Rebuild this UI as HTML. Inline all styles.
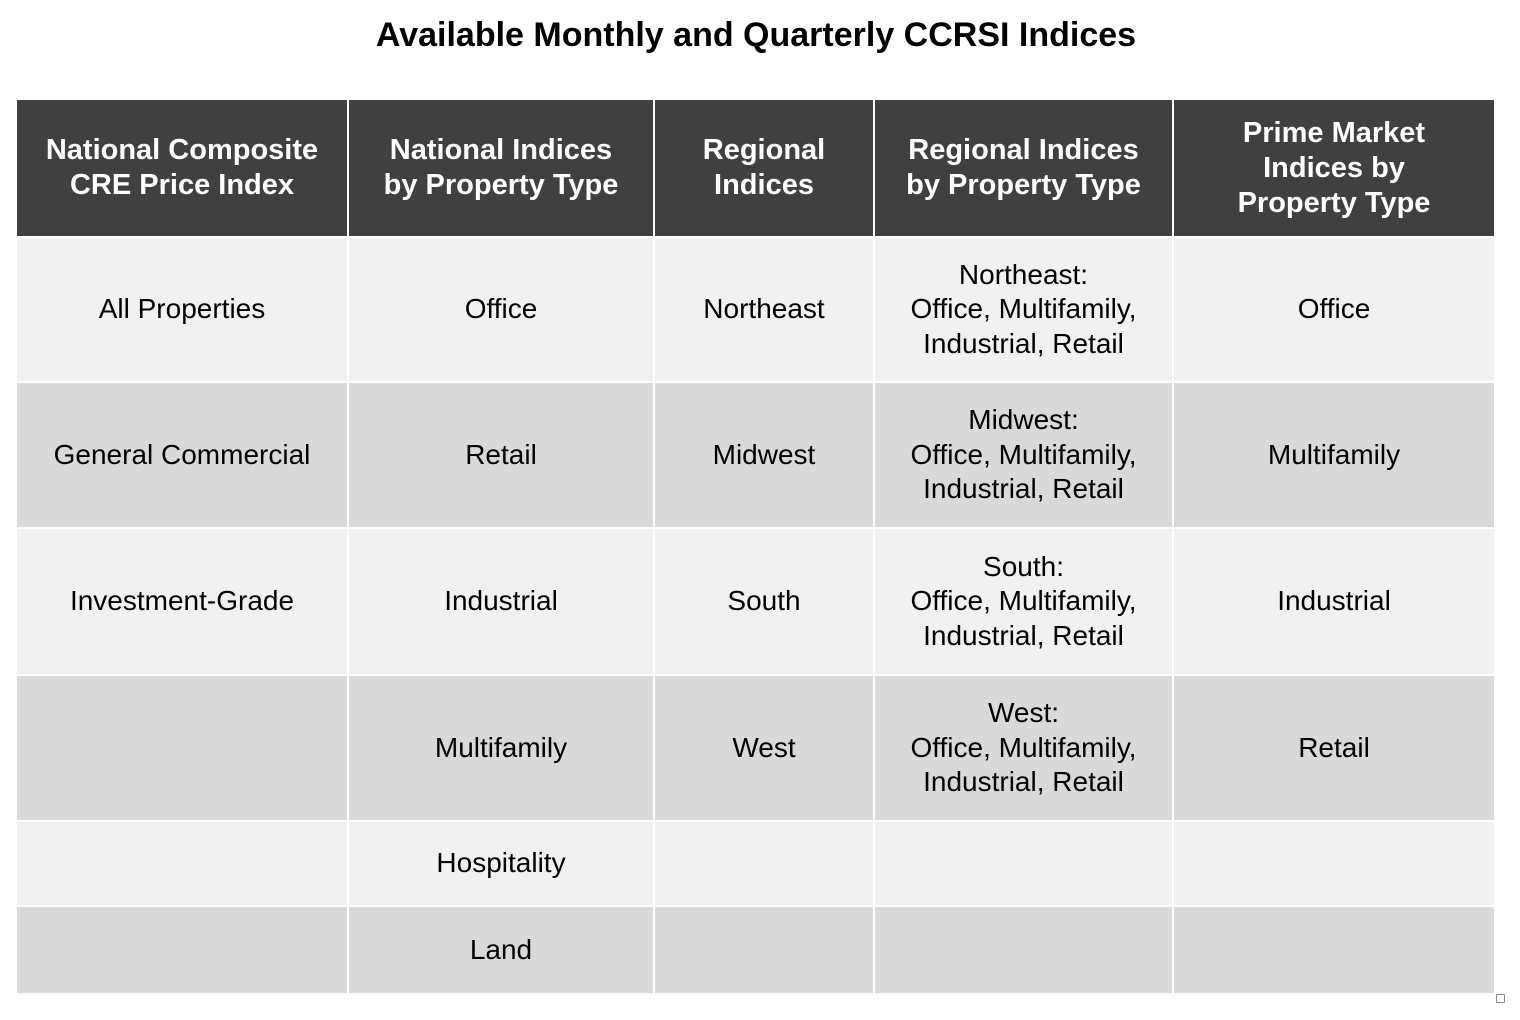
<!DOCTYPE html>
<html><head><meta charset="utf-8"><style>
body{margin:0;width:1520px;height:1020px;background:#fff;position:relative;font-family:"Liberation Sans",Arial,sans-serif;overflow:hidden}
#title{position:absolute;left:0;width:1512px;top:16px;text-align:center;font-weight:bold;font-size:34px;color:#000}
.c{position:absolute;display:flex;align-items:center;justify-content:center;text-align:center;box-sizing:border-box;font-size:28px;line-height:34.5px;color:#000}
.h{background:#404040;color:#fff;font-weight:bold;font-size:29px;line-height:35px}
.o{background:#f1f1f1}.e{background:#d9d9d9}
#sq{position:absolute;left:1496px;top:994px;width:7px;height:7px;border:1px solid #888;border-radius:1px}
</style></head><body>
<div id="title">Available Monthly and Quarterly CCRSI Indices</div>
<div id="tbl"></div>
<div id="sq"></div>
<script>
const cols=[17,348,654,874,1173,1494];
const rows=[100,237,382,528,675,821,906,993];
const headers=["National Composite<br>CRE Price Index","National Indices<br>by Property Type","Regional<br>Indices","Regional Indices<br>by Property Type","Prime Market<br>Indices by<br>Property Type"];
const body=[
["All Properties","Office","Northeast","Northeast:<br>Office, Multifamily,<br>Industrial, Retail","Office"],
["General Commercial","Retail","Midwest","Midwest:<br>Office, Multifamily,<br>Industrial, Retail","Multifamily"],
["Investment-Grade","Industrial","South","South:<br>Office, Multifamily,<br>Industrial, Retail","Industrial"],
["","Multifamily","West","West:<br>Office, Multifamily,<br>Industrial, Retail","Retail"],
["","Hospitality","","",""],
["","Land","","",""]];
const t=document.getElementById('tbl');
function cell(r,c,html,cls,name){
 const d=document.createElement('div');
 d.className='c '+cls;
 
 
 const x0=cols[c]+(c>0?1:0), x1=cols[c+1]-(c<cols.length-2?1:0);
 const y0=rows[r]+(r>0?1:0), y1=rows[r+1]-(r<rows.length-2?1:0);
 d.style.left=x0+'px';d.style.width=(x1-x0)+'px';d.style.top=y0+'px';d.style.height=(y1-y0)+'px';
 d.innerHTML=html;t.appendChild(d);
}
headers.forEach((h,c)=>cell(0,c,h,'h','header-cell-'+(c+1)));
body.forEach((row,i)=>row.forEach((v,c)=>cell(i+1,c,v,i%2==0?'o':'e','cell-r'+(i+1)+'-c'+(c+1))));
</script>
</body></html>
